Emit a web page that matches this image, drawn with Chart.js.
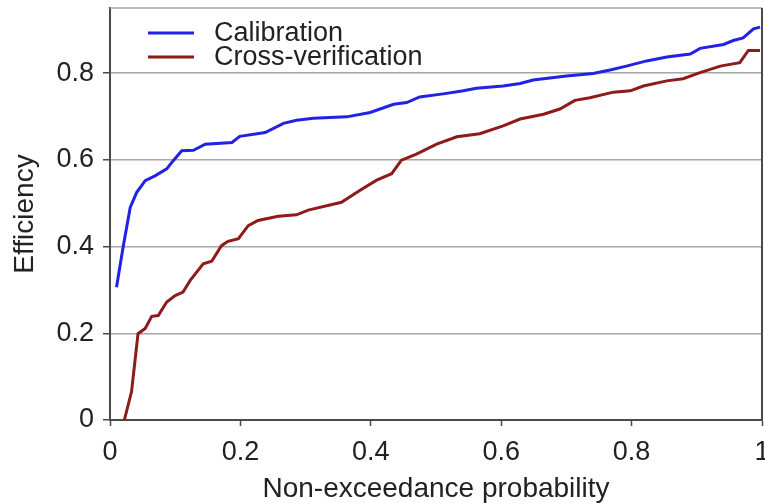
<!DOCTYPE html>
<html>
<head>
<meta charset="utf-8">
<title>Efficiency</title>
<script src="https://cdn.jsdelivr.net/npm/chart.js@4.4.1/dist/chart.umd.min.js"></script>
<style>
  html, body { margin: 0; padding: 0; background: #fff; }
  #wrap { width: 765px; height: 503px; }
</style>
</head>
<body>
<div id="wrap"><canvas id="out" width="765" height="503"></canvas></div>
<script>
// calibration run, non-exceedance probability vs efficiency
const calibX = [0.010, 0.020, 0.031, 0.041, 0.054, 0.069, 0.087, 0.097, 0.110, 0.128,
  0.146, 0.187, 0.199, 0.238, 0.266, 0.286, 0.312, 0.363, 0.399, 0.435,
  0.455, 0.475, 0.511, 0.542, 0.562, 0.603, 0.629, 0.649, 0.700, 0.741,
  0.767, 0.792, 0.823, 0.854, 0.890, 0.905, 0.941, 0.956, 0.971, 0.987, 0.997];
const calibY = [0.306, 0.398, 0.490, 0.525, 0.552, 0.563, 0.579, 0.598, 0.621, 0.622,
  0.636, 0.640, 0.654, 0.663, 0.684, 0.691, 0.696, 0.699, 0.709, 0.728,
  0.732, 0.745, 0.752, 0.759, 0.765, 0.770, 0.776, 0.784, 0.793, 0.799,
  0.807, 0.816, 0.828, 0.837, 0.844, 0.857, 0.866, 0.875, 0.881, 0.902, 0.906];

// cross-verification run
const crossX = [0.022, 0.033, 0.043, 0.054, 0.064, 0.074, 0.087, 0.100, 0.112, 0.123,
  0.143, 0.156, 0.171, 0.181, 0.197, 0.212, 0.227, 0.258, 0.286, 0.304,
  0.355, 0.383, 0.409, 0.432, 0.447, 0.470, 0.501, 0.532, 0.567, 0.603,
  0.629, 0.665, 0.690, 0.713, 0.736, 0.772, 0.798, 0.818, 0.854, 0.879,
  0.905, 0.936, 0.966, 0.979, 0.997];
const crossY = [0.000, 0.065, 0.199, 0.211, 0.239, 0.241, 0.272, 0.287, 0.295, 0.322,
  0.360, 0.366, 0.402, 0.412, 0.418, 0.448, 0.460, 0.470, 0.473, 0.484,
  0.502, 0.529, 0.553, 0.568, 0.599, 0.613, 0.636, 0.653, 0.660, 0.678,
  0.694, 0.705, 0.717, 0.737, 0.743, 0.756, 0.759, 0.770, 0.782, 0.787,
  0.801, 0.816, 0.824, 0.852, 0.852];

const seriesNames = ["Calibration", "Cross-verification"];
const xTitle = "Non-exceedance probability";
const yTitle = "Efficiency";

const FONT = "'Liberation Sans', Arial, sans-serif";
const TEXT = "#222";
const AXIS = "#4a4a4a";
const GRID = "#a6a6a6";

function toPoints(xs, ys) {
  return xs.map((x, i) => ({ x: x, y: ys[i] }));
}

// 0.2 -> "0.2", 1.0 -> "1"
function fmt(v) {
  return String(Math.round(v * 10) / 10);
}

// legend inside the plot, top left, plus top/right frame lines
const framePlugin = {
  id: "frame",
  beforeDatasetsDraw(chart) {
    const { ctx, chartArea: a } = chart;
    ctx.save();
    ctx.lineWidth = 1.5;
    ctx.strokeStyle = GRID;
    ctx.beginPath();
    ctx.moveTo(a.left, a.top);
    ctx.lineTo(a.right, a.top);
    ctx.stroke();
    ctx.strokeStyle = AXIS;
    ctx.lineWidth = 2;
    ctx.beginPath();
    ctx.moveTo(a.right, a.top);
    ctx.lineTo(a.right, a.bottom);
    ctx.stroke();
    ctx.restore();
  },
  afterDatasetsDraw(chart) {
    const { ctx, chartArea: a } = chart;
    ctx.save();
    ctx.font = "27px " + FONT;
    ctx.textBaseline = "middle";
    chart.data.datasets.forEach((ds, i) => {
      const y = a.top + 25 + i * 24;
      ctx.strokeStyle = ds.borderColor;
      ctx.lineWidth = 3;
      ctx.beginPath();
      ctx.moveTo(a.left + 38, y);
      ctx.lineTo(a.left + 84, y);
      ctx.stroke();
      ctx.fillStyle = TEXT;
      ctx.fillText(ds.label, a.left + 104, y + 1);
    });
    ctx.restore();
  }
};

const chartConfig = {
  type: "line",
  data: {
    datasets: [
      {
        label: seriesNames[0],
        data: toPoints(calibX, calibY),
        borderColor: "#2222e6",
        borderWidth: 3,
        pointRadius: 0,
        tension: 0
      },
      {
        label: seriesNames[1],
        data: toPoints(crossX, crossY),
        borderColor: "#8e1a1a",
        borderWidth: 3,
        pointRadius: 0,
        tension: 0
      }
    ]
  },
  options: {
    responsive: false,
    animation: false,
    layout: { padding: { top: 8, right: 3, left: 0, bottom: 0 } },
    plugins: { legend: { display: false }, tooltip: { enabled: false } },
    scales: {
      x: {
        type: "linear",
        min: 0,
        max: 1,
        ticks: {
          stepSize: 0.2,
          padding: 10,
          color: TEXT,
          font: { family: FONT, size: 27 },
          maxRotation: 0,
          callback: fmt
        },
        grid: {
          drawOnChartArea: false,
          tickLength: 6,
          tickColor: AXIS,
          tickWidth: 1.5
        },
        border: { color: AXIS, width: 2 },
        title: {
          display: true,
          text: xTitle,
          color: TEXT,
          font: { family: FONT, size: 28, lineHeight: 1 },
          padding: 0
        },
        afterFit(axis) {
          axis.height = 83;
          axis.paddingLeft = 0;
          axis.paddingRight = 0;
        }
      },
      y: {
        min: 0,
        max: 0.95,
        ticks: {
          stepSize: 0.2,
          includeBounds: false,
          padding: 9,
          color: TEXT,
          font: { family: FONT, size: 27 },
          callback: fmt
        },
        grid: {
          color: (c) => (c.tick && c.tick.value === 0 ? "rgba(0,0,0,0)" : GRID),
          lineWidth: 1.5,
          tickLength: 7,
          tickColor: AXIS,
          tickWidth: 1.5
        },
        border: { color: AXIS, width: 2 },
        title: {
          display: true,
          text: yTitle,
          color: TEXT,
          font: { family: FONT, size: 28, lineHeight: 1 },
          padding: { top: 11, bottom: 0 }
        },
        afterFit(axis) {
          axis.width = 110;
          axis.paddingTop = 0;
          axis.paddingBottom = 0;
        }
      }
    }
  },
  plugins: [framePlugin]
};

window.chart = new Chart(document.getElementById("out").getContext("2d"), chartConfig);
</script>
</body>
</html>
